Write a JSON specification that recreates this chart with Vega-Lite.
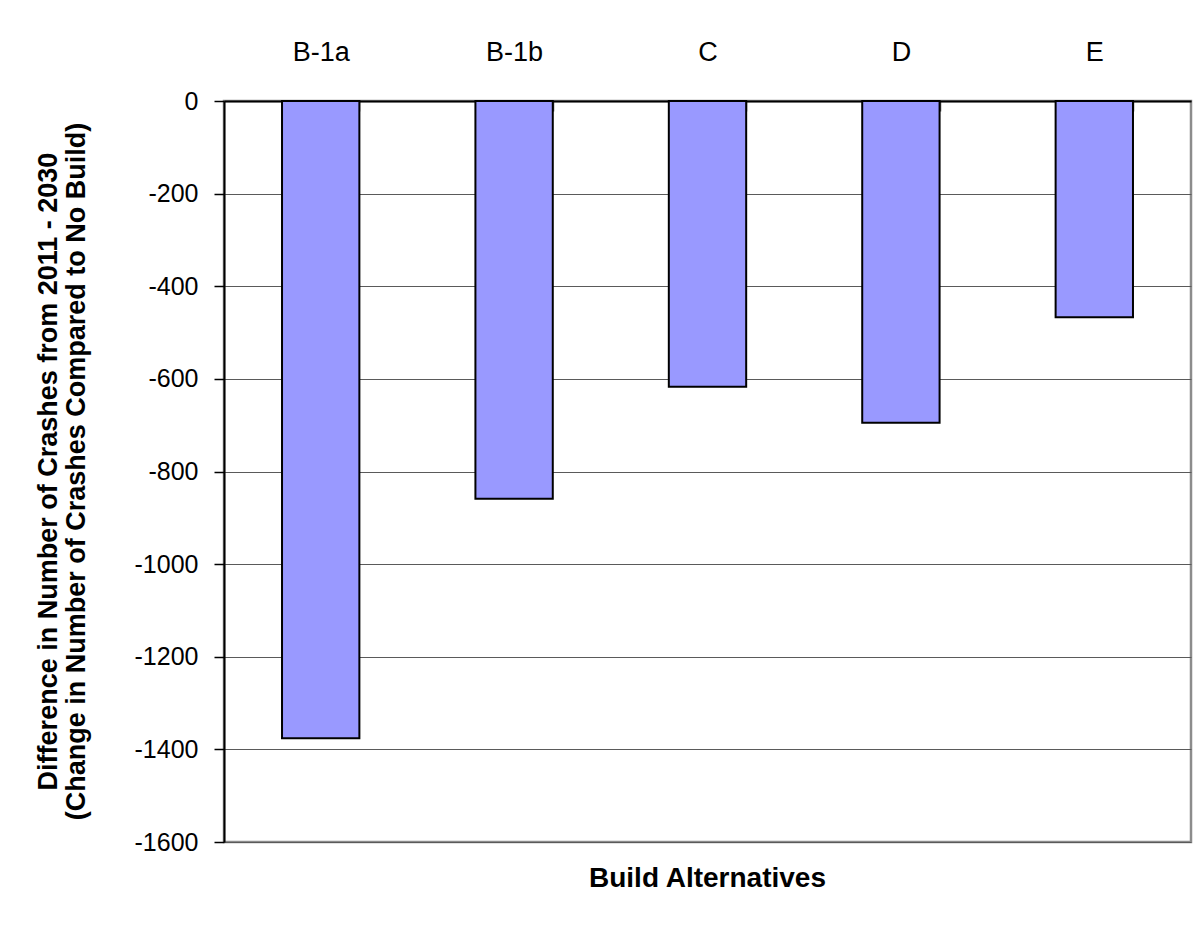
{
  "$schema": "https://vega.github.io/schema/vega-lite/v6.json",
  "autosize": {"type": "none"},
  "width": 967,
  "height": 741,
  "padding": {"left": 224, "top": 101, "right": 10, "bottom": 90},
  "background": "white",
  "title": {
    "text": "Build Alternatives",
    "orient": "bottom",
    "anchor": "middle",
    "font": "Liberation Sans",
    "fontSize": 28,
    "fontWeight": "bold",
    "color": "black",
    "offset": 10
  },
  "data": {
    "values": [
      {"alternative": "B-1a", "difference": -1376},
      {"alternative": "B-1b", "difference": -859},
      {"alternative": "C", "difference": -617},
      {"alternative": "D", "difference": -695},
      {"alternative": "E", "difference": -467}
    ]
  },
  "mark": {"type": "bar", "fill": "#9999FF", "stroke": "black", "strokeWidth": 2},
  "encoding": {
    "x": {
      "field": "alternative",
      "type": "nominal",
      "sort": null,
      "scale": {"paddingInner": 0.6, "paddingOuter": 0.3},
      "axis": {
        "orient": "top",
        "title": null,
        "labelAngle": 0,
        "labelFont": "Liberation Sans",
        "labelFontSize": 27,
        "labelColor": "black",
        "labelPadding": 45,
        "tickBand": "extent",
        "tickSize": -10,
        "tickColor": "#555555",
        "tickWidth": 1.5,
        "domainColor": "black",
        "domainWidth": 2
      }
    },
    "y": {
      "field": "difference",
      "type": "quantitative",
      "scale": {"domain": [-1600, 0], "nice": false},
      "axis": {
        "values": [0, -200, -400, -600, -800, -1000, -1200, -1400, -1600],
        "format": "d",
        "labelExpr": "replace(datum.label, '−', '-')",
        "title": ["Difference in Number of Crashes from 2011 - 2030", "(Change in Number of Crashes Compared to No Build)"],
        "titleFont": "Liberation Sans",
        "titleFontSize": 27,
        "titleFontWeight": "bold",
        "titleColor": "black",
        "titleLineHeight": 28,
        "titleX": -176,
        "titleY": 370,
        "titleAngle": -90,
        "titleAlign": "center",
        "titleBaseline": "middle",
        "labelFont": "Liberation Sans",
        "labelFontSize": 25,
        "labelColor": "black",
        "labelPadding": 16,
        "tickSize": 10,
        "tickColor": "black",
        "tickWidth": 1.5,
        "domainColor": "black",
        "domainWidth": 2,
        "grid": true,
        "gridColor": "#5a5a5a",
        "gridWidth": 1
      }
    }
  },
  "config": {
    "view": {"stroke": "#8c8c8c", "strokeWidth": 2.5}
  }
}
